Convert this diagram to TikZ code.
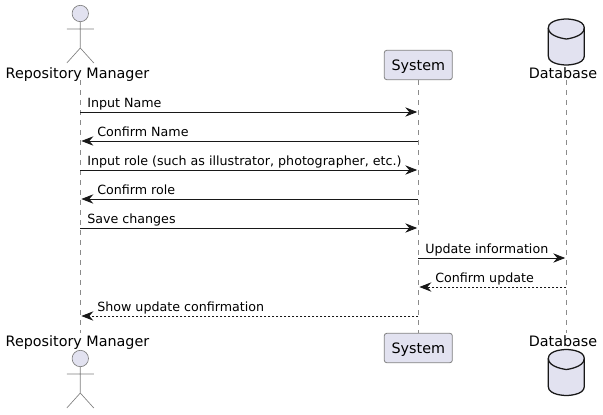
\documentclass[tikz,border=0pt]{standalone}
\usepackage{fontspec}
\setmainfont{DejaVu Sans}
\usepackage{xcolor}
\usetikzlibrary{arrows.meta, positioning, calc}
\definecolor{partfill}{HTML}{E2E2F0}
\definecolor{partline}{HTML}{181818}

\begin{document}
\begin{tikzpicture}[
  x=0.75pt, y=-0.75pt,
  partname/.style={font=\fontsize{10.75pt}{12pt}\selectfont, inner sep=0pt, anchor=base, text=black},
  partbox/.style={draw=partline!55, line width=0.6pt, fill=partfill, rounded corners=1.8pt, minimum width=51pt, minimum height=22pt},
  boxname/.style={font=\fontsize{10.75pt}{12pt}\selectfont, inner sep=0pt, anchor=base},
  lifeline/.style={draw=partline!50, line width=0.45pt, dash pattern=on 3.75pt off 3.75pt},
  msglabel/.style={font=\fontsize{9.5pt}{12pt}\selectfont, inner sep=0pt, anchor=base west},
  call/.style={draw=partline, line width=0.7pt, -{Stealth[length=9pt, width=7pt, inset=3pt]}, shorten >=0.8pt},
  reply/.style={call, dash pattern=on 1.5pt off 1.5pt},
  actor/.pic={
    \draw[draw=partline!55, line width=0.5pt, fill=partfill] (0,-15.5) circle (8.2);
    \draw[draw=partline!55, line width=0.5pt] (0,-7.3) -- (0,19) (-13.5,0) -- (13.5,0)
      (-13.5,34) -- (0,19) -- (13.5,34);
  },
  dbase/.pic={
    \draw[draw=partline, line width=0.95pt, fill=partfill] (-18,-14) .. controls (-18,-23) and (0,-23) .. (0,-23)
      .. controls (0,-23) and (18,-23) .. (18,-14) -- (18,14) .. controls (18,23) and (0,23) .. (0,23)
      .. controls (0,23) and (-18,23) .. (-18,14) -- cycle;
    \draw[draw=partline, line width=0.95pt] (-18,-14) .. controls (-18,-5) and (0,-3) .. (0,-3)
      .. controls (0,-3) and (18,-5) .. (18,-14);
  }
]
\useasboundingbox (0,0) rectangle (603,414);

% participants, top row
\pic at (80.3,29) {actor};
\node[partname] (rmTop) at (77.5,78) {Repository Manager};
\node[partbox] (sysTop) at (418.3,65) {};
\node[boxname] (sysTopName) at (418.3,70) {System};
\pic at (566.3,42) {dbase};
\node[partname] (dbTop) at (563,78) {Database};

% participants, bottom row
\node[partname] (rmBot) at (77.5,346) {Repository Manager};
\pic at (80.3,374) {actor};
\node[partbox] (sysBot) at (418.3,348) {};
\node[boxname] (sysBotName) at (418.3,353) {System};
\node[partname] (dbBot) at (563,346) {Database};
\pic at (566.3,372.5) {dbase};

% lifelines
\coordinate (rmStart) at (80.3,80);
\coordinate (rmEnd) at (80.3,333);
\coordinate (dbStart) at (566.3,80);
\coordinate (dbEnd) at (566.3,333);
\draw[lifeline] (rmStart) -- (rmEnd);
\draw[lifeline] (sysTop) -- (sysBot);
\draw[lifeline] (dbStart) -- (dbEnd);

% messages
\foreach \n/\y/\from/\to/\kind/\lx/\txt in {
  1/112/rm/sys/call/87/{Input Name},
  2/141/sys/rm/call/97/{Confirm Name},
  3/170/rm/sys/call/87/{Input role (such as illustrator, photographer, etc.)},
  4/199/sys/rm/call/97/{Confirm role},
  5/228/rm/sys/call/87/{Save changes},
  6/258/sys/db/call/425/{Update information},
  7/287/db/sys/reply/435/{Confirm update},
  8/316/sys/rm/reply/97/{Show update confirmation}}{
  \coordinate (rm\n) at (80.3,\y);
  \coordinate (sys\n) at (418.3,\y);
  \coordinate (db\n) at (566.3,\y);
  \draw[\kind] (\from\n) -- (\to\n);
  \node[msglabel] (label\n) at (\lx,\y-4.5) {\txt};
}
\end{tikzpicture}
\end{document}
